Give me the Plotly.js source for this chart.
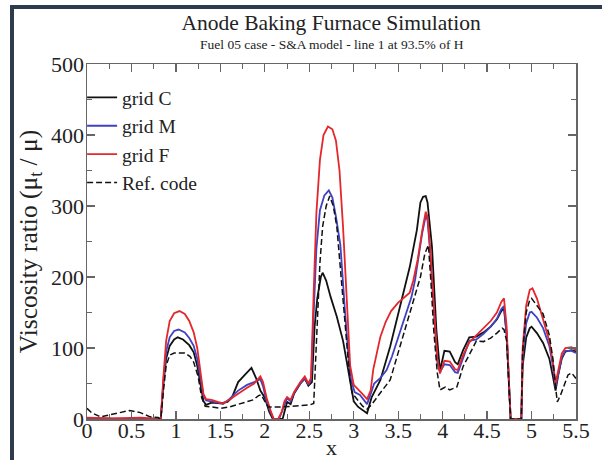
<!DOCTYPE html>
<html>
<head>
<meta charset="utf-8">
<script src="https://cdn.plot.ly/plotly-3.0.1.min.js"></script>
<style>
  html, body { margin: 0; padding: 0; background: #ffffff; }
  #wrap { position: relative; width: 602px; height: 460px; overflow: hidden; }
  #chart { width: 602px; height: 460px; }
  #frame { position: absolute; left: 10px; top: 5px; width: 600px; height: 460px;
           border-top: 4px solid #2e3b4d; border-left: 4px solid #2e3b4d; pointer-events: none; }
</style>
</head>
<body>
<div id="wrap">
  <div id="chart"></div>
  <div id="frame"></div>
</div>
<script>
// ---- Data ----
const titleText = "Anode Baking Furnace Simulation";
const subtitleText = "Fuel 05 case - S&amp;A model - line 1 at 93.5% of H";
const seriesNames = ["grid C", "grid M", "grid F", "Ref. code"];

// grid C (black)
const xC = [0,0.83,0.86,0.89,0.93,0.98,1.02,1.08,1.15,1.2,1.24,1.28,1.31,1.34,1.4,1.5,1.58,1.63,1.7,1.78,1.85,1.9,1.95,2.0,2.05,2.09,2.2,2.25,2.29,2.33,2.4,2.45,2.49,2.53,2.56,2.59,2.63,2.65,2.69,2.74,2.81,2.88,2.92,2.96,3.0,3.05,3.1,3.15,3.2,3.3,3.41,3.52,3.63,3.71,3.75,3.78,3.81,3.83,3.88,3.93,3.97,4.02,4.08,4.14,4.17,4.23,4.3,4.38,4.46,4.54,4.61,4.66,4.69,4.72,4.75,4.765,4.885,4.9,4.94,4.98,5.0,5.06,5.13,5.2,5.24,5.27,5.3,5.34,5.38,5.45,5.5];
const yC = [0,0,50,85,103,112,115,112,104,94,75,45,25,20,23,22,24,30,52,63,72,58,40,30,10,0,0,24,21,36,50,57,47,52,130,170,200,206,195,172,144,110,80,50,25,17,13,8,30,55,102,158,214,266,305,313,314,305,243,125,68,96,95,80,77,97,115,116,122,130,140,152,156,118,35,0,0,75,115,128,130,121,107,85,60,40,62,85,95,97,95];

// grid M (blue)
const xM = [0,0.8,0.83,0.86,0.89,0.93,0.98,1.03,1.1,1.15,1.2,1.24,1.28,1.31,1.34,1.4,1.47,1.53,1.6,1.7,1.8,1.88,1.95,1.98,2.02,2.07,2.1,2.16,2.2,2.25,2.29,2.33,2.4,2.45,2.49,2.52,2.55,2.58,2.62,2.67,2.72,2.76,2.8,2.85,2.9,2.94,2.97,3.01,3.07,3.11,3.15,3.19,3.23,3.3,3.37,3.43,3.48,3.54,3.6,3.65,3.69,3.73,3.77,3.81,3.83,3.86,3.9,3.94,3.97,4.02,4.08,4.14,4.17,4.23,4.3,4.38,4.46,4.54,4.61,4.66,4.69,4.72,4.75,4.765,4.885,4.9,4.94,4.98,5.0,5.06,5.13,5.2,5.24,5.27,5.3,5.34,5.38,5.45,5.5];
const yM = [1,1,0,55,95,115,124,126,122,114,103,85,55,33,26,25,23,21,28,40,48,52,56,46,25,8,0,0,12,29,25,37,50,58,48,55,150,240,294,315,322,312,285,245,155,90,55,38,34,27,21,35,50,58,69,88,107,128,150,172,196,228,262,286,280,235,155,80,66,77,76,66,65,85,110,112,120,130,141,155,159,120,35,0,0,90,135,150,151,143,128,103,75,45,63,87,96,96,93];

// grid F (red)
const xF = [0,0.3,0.6,0.8,0.83,0.86,0.89,0.93,0.98,1.04,1.1,1.15,1.2,1.24,1.28,1.31,1.34,1.4,1.47,1.53,1.6,1.7,1.8,1.88,1.95,1.98,2.02,2.07,2.1,2.15,2.19,2.22,2.25,2.29,2.33,2.4,2.45,2.49,2.52,2.55,2.58,2.62,2.66,2.71,2.76,2.8,2.84,2.88,2.92,2.96,3.0,3.05,3.1,3.15,3.19,3.22,3.26,3.3,3.36,3.42,3.5,3.57,3.63,3.67,3.72,3.77,3.81,3.83,3.86,3.9,3.94,3.97,4.02,4.08,4.14,4.17,4.23,4.3,4.38,4.46,4.54,4.61,4.66,4.69,4.72,4.75,4.765,4.885,4.9,4.94,4.98,5.01,5.06,5.13,5.2,5.24,5.27,5.3,5.34,5.38,5.45,5.5];
const yF = [2,1,2,1,0,60,110,138,149,152,148,138,122,100,60,35,28,27,24,22,27,36,44,50,60,52,30,10,0,0,10,25,31,27,38,52,60,50,58,180,290,365,400,412,408,392,350,270,170,75,48,42,35,28,40,70,95,116,137,152,164,171,178,195,225,265,292,285,240,160,85,64,82,81,70,69,90,108,118,128,138,150,165,170,130,40,0,0,100,160,182,184,170,140,110,80,50,68,92,100,101,97];

// Ref. code (black dashed)
const xR = [0,0.05,0.15,0.25,0.37,0.48,0.6,0.71,0.8,0.83,0.86,0.89,0.93,0.98,1.1,1.16,1.2,1.25,1.29,1.33,1.4,1.5,1.6,1.72,1.8,1.87,1.93,1.96,2.0,2.04,2.2,2.35,2.51,2.55,2.57,2.59,2.62,2.65,2.69,2.73,2.77,2.81,2.86,2.92,2.95,2.98,3.05,3.1,3.15,3.2,3.3,3.41,3.52,3.63,3.75,3.8,3.84,3.87,3.9,3.94,3.97,4.03,4.08,4.16,4.23,4.31,4.38,4.46,4.54,4.61,4.67,4.69,4.72,4.75,4.765,4.885,4.9,4.94,4.98,5.0,5.06,5.13,5.2,5.24,5.27,5.29,5.33,5.37,5.41,5.45,5.5];
const yR = [15,9,3,6,9,12,9,3,2,0,40,75,90,93,93,88,80,60,30,18,17,15,17,21,24,27,33,34,25,17,17,18,20,22,80,153,220,271,300,314,300,271,200,107,65,37,25,18,14,20,37,55,102,149,200,233,245,190,125,65,41,45,41,45,74,93,110,109,114,121,128,126,110,35,0,0,95,150,168,170,160,148,118,85,45,24,35,50,62,65,57];

const xTickVals = [0,0.5,1,1.5,2,2.5,3,3.5,4,4.5,5,5.5];
const xTickText = ["0","0.5","1","1.5","2","2.5","3","3.5","4","4.5","5","5.5"];
const yTickVals = [0,100,200,300,400,500];
const yTickText = ["0","100","200","300","400","500"];

// ---- Styling ----
const serif = "Liberation Serif, Times New Roman, serif";
const axisCol = "#666666";
const txtCol = "#222222";

const traces = [
  {x: xC, y: yC, name: seriesNames[0], type: "scatter", mode: "lines",
   line: {color: "#111111", width: 1.8}},
  {x: xM, y: yM, name: seriesNames[1], type: "scatter", mode: "lines",
   line: {color: "#3f42c2", width: 1.8}},
  {x: xF, y: yF, name: seriesNames[2], type: "scatter", mode: "lines",
   line: {color: "#e3272b", width: 1.8}},
  {x: xR, y: yR, name: seriesNames[3], type: "scatter", mode: "lines",
   line: {color: "#111111", width: 1.5, dash: "6px,3px"}}
];

const axisCommon = {
  showline: true, linecolor: axisCol, linewidth: 1.5, mirror: "ticks",
  ticks: "inside", ticklen: 8, tickwidth: 1.2, tickcolor: axisCol,
  showgrid: false, zeroline: false,
  tickfont: {family: serif, size: 22, color: txtCol}
};

const layout = {
  width: 602, height: 460,
  margin: {l: 87, r: 26, t: 64, b: 41},
  paper_bgcolor: "#ffffff", plot_bgcolor: "#ffffff",
  font: {family: serif, color: txtCol},
  title: {text: titleText, font: {family: serif, size: 21.5, color: txtCol},
          x: 0.55, xanchor: "center", y: 0.952, yanchor: "middle"},
  annotations: [{text: subtitleText, xref: "paper", yref: "paper", x: 0.5, y: 1.055,
                 xanchor: "center", yanchor: "middle", showarrow: false,
                 font: {family: serif, size: 13.5, color: txtCol}}],
  xaxis: Object.assign({}, axisCommon, {
    range: [0, 5.5], tickvals: xTickVals, ticktext: xTickText,
    ticklabelstandoff: -9,
    minor: {dtick: 0.25, tick0: 0, ticks: "inside", ticklen: 5, tickcolor: axisCol, tickwidth: 1},
    title: {text: "x", font: {family: serif, size: 22, color: txtCol}, standoff: 0}
  }),
  yaxis: Object.assign({}, axisCommon, {
    range: [0, 500], tickvals: yTickVals, ticktext: yTickText,
    ticklabelstandoff: -3,
    minor: {dtick: 50, tick0: 0, ticks: "inside", ticklen: 5, tickcolor: axisCol, tickwidth: 1},
    title: {text: "Viscosity ratio (μ<sub>t</sub> / μ)", font: {family: serif, size: 25.5, color: txtCol}, standoff: 6}
  }),
  showlegend: true,
  legend: {x: -0.01, xanchor: "left", y: 0.96, yanchor: "top",
           bgcolor: "rgba(0,0,0,0)", borderwidth: 0,
           font: {family: serif, size: 19.5, color: txtCol},
           tracegroupgap: 0, itemwidth: 30}
};

Plotly.newPlot("chart", traces, layout, {displayModeBar: false, staticPlot: true});
</script>
</body>
</html>
